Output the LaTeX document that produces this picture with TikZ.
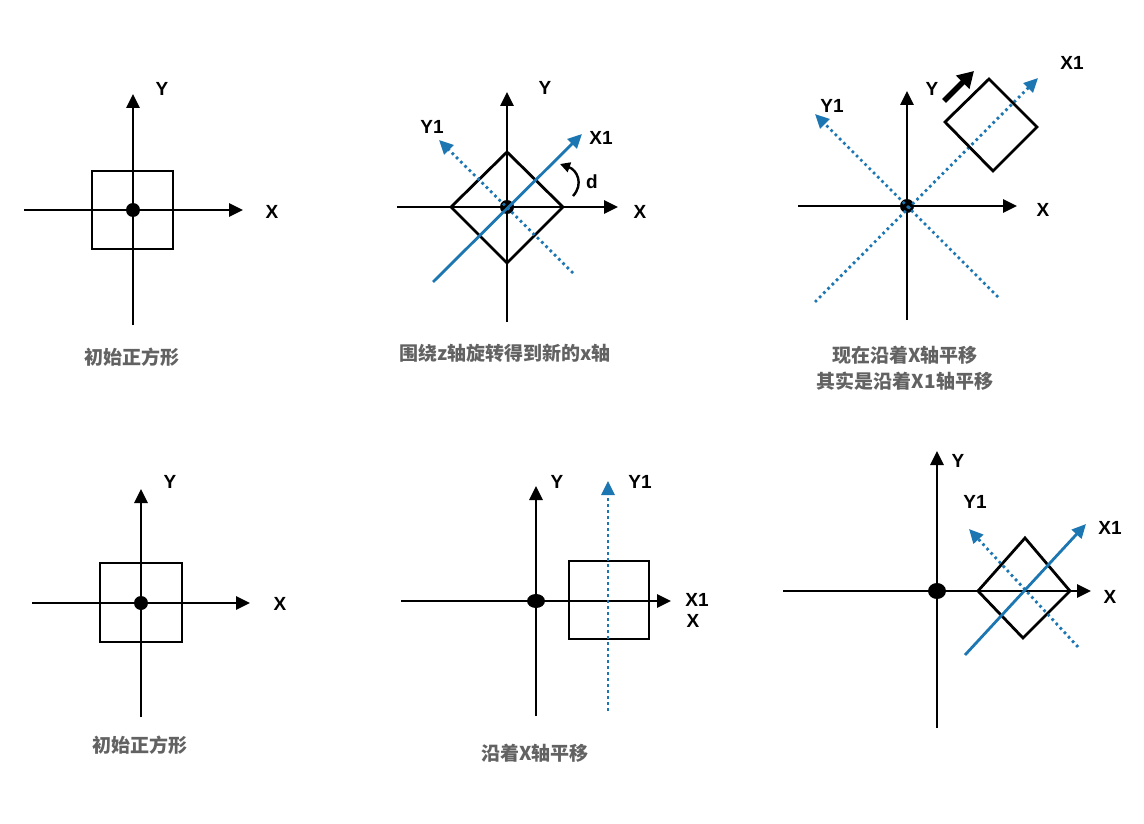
\documentclass[tikz,border=0pt]{standalone}
\usepackage{fontspec}
\setmainfont{Liberation Sans}
\newfontfamily\cjk{Noto Sans CJK SC}
\usetikzlibrary{arrows.meta}
\definecolor{axisblue}{RGB}{28,118,178}
\definecolor{captiongray}{RGB}{98,98,98}

\begin{document}
\begin{tikzpicture}[x=1pt, y=-1pt, line width=2.8pt,
  tip/.style={-{Triangle[length=14pt,width=13pt]}},
  blueaxis/.style={tip, draw=axisblue, line width=2.8pt},
  dotaxis/.style={blueaxis, dash pattern=on 2.6pt off 3.4pt},
  lab/.style={font=\bfseries\fontsize{19}{19}\selectfont},
  captext/.style={font=\cjk\bfseries\fontsize{19}{26}\selectfont, text=captiongray, align=center}]
			\useasboundingbox (0,0) rectangle (1144,824);
			% panel 1: initial square
			\coordinate (p1w) at (24,210); \coordinate (p1e) at (243,210);
			\coordinate (p1s) at (133,325); \coordinate (p1n) at (133,94);
			\draw [tip] (p1w) -- (p1e);
			\draw [tip] (p1s) -- (p1n);
			\draw (92,171) rectangle (173,249);
			\fill (133,210) circle (7);
			\node[lab] (p1y) at (162,89) {Y};
			\node[lab] (p1x) at (272,212) {X};
			\node[captext] (p1cap) at (132,357) {初始正方形};
			% panel 2: rotate about z
			\coordinate (p2w) at (397,207); \coordinate (p2e) at (618,207);
			\coordinate (p2s) at (507,322); \coordinate (p2n) at (507,92);
			\draw [tip] (p2w) -- (p2e);
			\draw [tip] (p2s) -- (p2n);
			\draw (451,207) -- (507,152) -- (563,207) -- (507,263) -- cycle;
			\fill (507,207) circle (7);
			\coordinate (p2x1a) at (433,282); \coordinate (p2x1b) at (582,134);
			\coordinate (p2y1a) at (573,273); \coordinate (p2y1b) at (439,140);
			\draw [blueaxis] (p2x1a) -- (p2x1b);
			\draw [dotaxis] (p2y1a) -- (p2y1b);
			\draw [line width=2.4pt, -{Triangle[length=10pt,width=10pt]}] (573,196) .. controls (584,184) and (577,170) .. (560,164);
			\node[lab] (p2y) at (545,88) {Y};
			\node[lab] (p2x) at (640,212) {X};
			\node[lab] (p2y1) at (432,127) {Y1};
			\node[lab] (p2x1) at (601,138) {X1};
			\node[lab] (p2d) at (592,182) {d};
			\node[captext] (p2cap) at (505,353) {围绕z轴旋转得到新的x轴};
			% panel 3: move along X = along X1
			\coordinate (p3w) at (798,206); \coordinate (p3e) at (1017,206);
			\coordinate (p3s) at (907,320); \coordinate (p3n) at (907,91);
			\draw [tip] (p3w) -- (p3e);
			\draw [tip] (p3s) -- (p3n);
			\fill (907,206) circle (7);
			\coordinate (p3x1a) at (815,302); \coordinate (p3x1b) at (1038,78);
			\coordinate (p3y1a) at (998,297); \coordinate (p3y1b) at (815,114);
			\draw [dotaxis] (p3x1a) -- (p3x1b);
			\draw [dotaxis] (p3y1a) -- (p3y1b);
			\draw (945,122) -- (989,79) -- (1037,127) -- (993,171) -- cycle;
			\coordinate (p3ma) at (944,101); \coordinate (p3mb) at (974,71);
			\draw [line width=5.5pt, -{Triangle[length=16pt,width=18pt]}] (p3ma) -- (p3mb);
			\node[lab] (p3ym) at (932,89) {Y};
			\node[lab] (p3x) at (1043,210) {X};
			\node[lab] (p3y1) at (832,106) {Y1};
			\node[lab] (p3x1) at (1072,63) {X1};
			\node[captext] (p3cap) at (905,368) {现在沿着X轴平移\\其实是沿着X1轴平移};
			% panel 4: initial square
			\coordinate (p4w) at (32,603); \coordinate (p4e) at (250,603);
			\coordinate (p4s) at (141,717); \coordinate (p4n) at (141,489);
			\draw [tip] (p4w) -- (p4e);
			\draw [tip] (p4s) -- (p4n);
			\draw (100,563) rectangle (182,642);
			\fill (141,603) circle (7);
			\node[lab] (p4y) at (170,482) {Y};
			\node[lab] (p4x) at (280,604) {X};
			\node[captext] (p4cap) at (140,745) {初始正方形};
			% panel 5: move along X
			\coordinate (p5w) at (401,601); \coordinate (p5e) at (671,601);
			\coordinate (p5s) at (536,716); \coordinate (p5n) at (536,486);
			\draw [tip] (p5w) -- (p5e);
			\draw [tip] (p5s) -- (p5n);
			\fill (536,601) ellipse (9 and 7);
			\draw (569,561) rectangle (649,639);
			\coordinate (p5y1a) at (608,711); \coordinate (p5y1b) at (608,481);
			\draw [dotaxis] (p5y1a) -- (p5y1b);
			\node[lab] (p5y) at (557,482) {Y};
			\node[lab] (p5y1) at (640,482) {Y1};
			\node[lab] (p5x1) at (697,600) {X1};
			\node[lab] (p5x) at (693,621) {X};
			\node[captext] (p5cap) at (535,753) {沿着X轴平移};
			% panel 6: rotated square moved along X
			\coordinate (p6w) at (783,591); \coordinate (p6e) at (1091,591);
			\coordinate (p6s) at (937,728); \coordinate (p6n) at (937,451);
			\draw [tip] (p6w) -- (p6e);
			\draw [tip] (p6s) -- (p6n);
			\fill (937,591) ellipse (9 and 8);
			\draw (978,591) -- (1025,538) -- (1070,591) -- (1023,638) -- cycle;
			\coordinate (p6x1a) at (965,655); \coordinate (p6x1b) at (1086,524);
			\coordinate (p6y1a) at (1078,647); \coordinate (p6y1b) at (969,529);
			\draw [dotaxis] (p6y1a) -- (p6y1b);
			\draw [blueaxis] (p6x1a) -- (p6x1b);
			\node[lab] (p6y) at (958,461) {Y};
			\node[lab] (p6y1) at (975,502) {Y1};
			\node[lab] (p6x1) at (1110,528) {X1};
			\node[lab] (p6x) at (1110,597) {X};
			\end{tikzpicture}
\end{document}
